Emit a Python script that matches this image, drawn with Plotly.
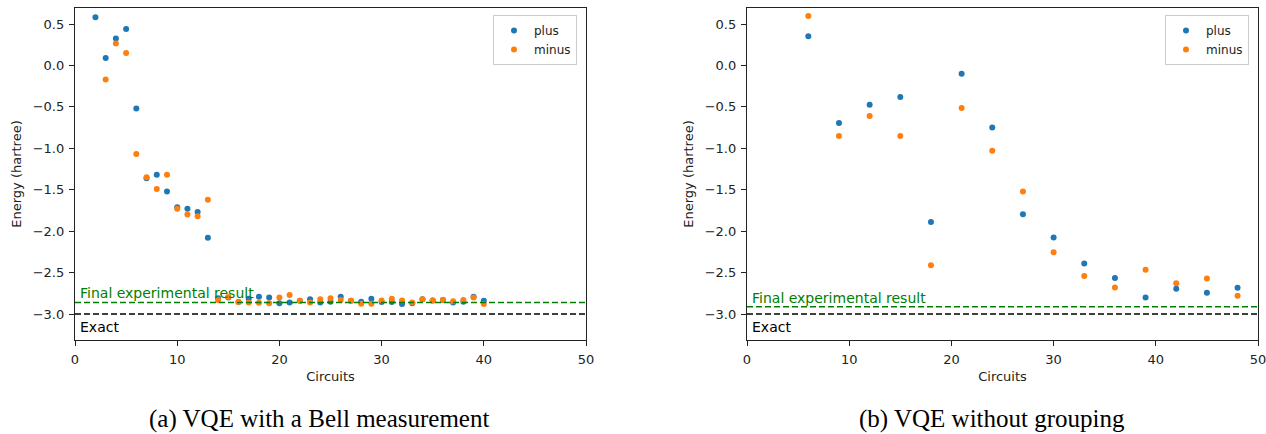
import plotly.graph_objects as go

# ---------------- data ----------------
bell_plus_x = list(range(2, 41))
bell_plus_y = [0.58, 0.09, 0.325, 0.44, -0.52, -1.36, -1.32, -1.52, -1.71, -1.73, -1.77, -2.08,
               -2.81, -2.80, -2.855, -2.815, -2.79, -2.80, -2.87, -2.86, -2.84, -2.82, -2.86, -2.85,
               -2.79, -2.84, -2.85, -2.815, -2.855, -2.855, -2.88, -2.87, -2.82, -2.835, -2.83,
               -2.86, -2.85, -2.79, -2.84]
bell_minus_x = list(range(3, 41))
bell_minus_y = [-0.17, 0.265, 0.15, -1.07, -1.35, -1.49, -1.32, -1.73, -1.80, -1.82, -1.62,
                -2.83, -2.795, -2.855, -2.86, -2.865, -2.87, -2.80, -2.77, -2.84, -2.86, -2.82,
                -2.81, -2.83, -2.84, -2.875, -2.875, -2.835, -2.815, -2.835, -2.86, -2.82, -2.835,
                -2.83, -2.845, -2.83, -2.80, -2.88]

nogroup_x = [6, 9, 12, 15, 18, 21, 24, 27, 30, 33, 36, 39, 42, 45, 48]
nogroup_plus_y = [0.353, -0.695, -0.475, -0.38, -1.89, -0.10, -0.75, -1.795, -2.076, -2.39,
                  -2.566, -2.80, -2.695, -2.743, -2.683]
nogroup_minus_y = [0.595, -0.85, -0.61, -0.85, -2.41, -0.515, -1.03, -1.52, -2.255, -2.54,
                   -2.68, -2.466, -2.627, -2.57, -2.78]

final_bell = -2.86
final_nogroup = -2.912
exact_energy = -3.0

y_ticks = [0.5, 0.0, -0.5, -1.0, -1.5, -2.0, -2.5, -3.0]
x_ticks = [0, 10, 20, 30, 40, 50]
captions = ["(a) VQE with a Bell measurement", "(b) VQE without grouping"]

BLUE = "#1f77b4"
ORANGE = "#ff7f0e"
GREEN = "#008000"
FONT = "DejaVu Sans"

W, H = 1266, 434
def px_x(p):
    return p / W
def px_y(p):
    return 1 - p / H

fig = go.Figure()

def add_pair(xs_p, ys_p, xs_m, ys_m, xa, ya, leg):
    fig.add_trace(go.Scatter(x=xs_p, y=ys_p, mode="markers", name="plus",
                             marker=dict(color=BLUE, size=6), xaxis=xa, yaxis=ya, legend=leg))
    fig.add_trace(go.Scatter(x=xs_m, y=ys_m, mode="markers", name="minus",
                             marker=dict(color=ORANGE, size=6), xaxis=xa, yaxis=ya, legend=leg))

add_pair(bell_plus_x, bell_plus_y, bell_minus_x, bell_minus_y, "x", "y", "legend")
add_pair(nogroup_x, nogroup_plus_y, nogroup_x, nogroup_minus_y, "x2", "y2", "legend2")

axis_common = dict(showline=True, mirror=True, linecolor="#222", linewidth=1.3,
                   ticks="outside", ticklen=5, tickwidth=1.2, tickcolor="#222",
                   showgrid=False, zeroline=False, automargin=False,
                   ticklabelstandoff=2, ticklabeloverflow="allow",
                   tickfont=dict(family=FONT, size=13, color="#222"))

ydom = [px_y(340), px_y(8)]
xdom1 = [px_x(75), px_x(586)]
xdom2 = [px_x(747), px_x(1258)]

xtitle = dict(text="Circuits", font=dict(size=13), standoff=6)
ytitle = dict(text="Energy (hartree)", font=dict(size=13), standoff=8)

fig.update_layout(
    width=W, height=H,
    margin=dict(l=0, r=0, t=0, b=0, autoexpand=False),
    paper_bgcolor="white", plot_bgcolor="white",
    font=dict(family=FONT, size=12, color="#222"),
    xaxis=dict(domain=xdom1, range=[0, 50], tickvals=x_ticks, anchor="y", title=xtitle, **axis_common),
    yaxis=dict(domain=ydom, range=[-3.313, 0.693], tickvals=y_ticks, tickformat=".1f", anchor="x",
               title=ytitle, **axis_common),
    xaxis2=dict(domain=xdom2, range=[0, 50], tickvals=x_ticks, anchor="y2", title=xtitle, **axis_common),
    yaxis2=dict(domain=ydom, range=[-3.313, 0.693], tickvals=y_ticks, tickformat=".1f", anchor="x2",
                title=ytitle, **axis_common),
    legend=dict(x=px_x(577), y=px_y(15), xanchor="right", yanchor="top",
                bordercolor="#cccccc", borderwidth=1, bgcolor="white",
                font=dict(family=FONT, size=12, color="#222"), itemwidth=30),
    legend2=dict(x=px_x(1249), y=px_y(15), xanchor="right", yanchor="top",
                 bordercolor="#cccccc", borderwidth=1, bgcolor="white",
                 font=dict(family=FONT, size=12, color="#222"), itemwidth=30),
)

shapes = []
annotations = []
for xa, ya, final in [("x", "y", final_bell), ("x2", "y2", final_nogroup)]:
    shapes.append(dict(type="line", xref=f"{xa} domain", yref=ya, x0=0, x1=1, y0=final, y1=final,
                       line=dict(color=GREEN, width=1.5, dash="6px,3px")))
    shapes.append(dict(type="line", xref=f"{xa} domain", yref=ya, x0=0, x1=1,
                       y0=exact_energy, y1=exact_energy,
                       line=dict(color="black", width=1.5, dash="6px,3px")))
    annotations.append(dict(xref=xa, yref=ya, x=0.25, y=final, text="Final experimental result",
                            showarrow=False, xanchor="left", yanchor="bottom", yshift=-1,
                            font=dict(family=FONT, size=14, color=GREEN)))
    annotations.append(dict(xref=xa, yref=ya, x=0.25, y=exact_energy, text="Exact",
                            showarrow=False, xanchor="left", yanchor="top", yshift=-3,
                            font=dict(family=FONT, size=14, color="black")))

for cx, cap in zip([px_x(319), px_x(992)], captions):
    annotations.append(dict(xref="paper", yref="paper", x=cx, y=px_y(419), text=cap,
                            showarrow=False, xanchor="center", yanchor="middle",
                            font=dict(family="Liberation Serif", size=25, color="black")))

fig.update_layout(shapes=shapes, annotations=annotations)
fig.write_html("out.html", config={"displayModeBar": False},
               post_script="document.body.style.margin='0';document.body.style.overflow='hidden';")
